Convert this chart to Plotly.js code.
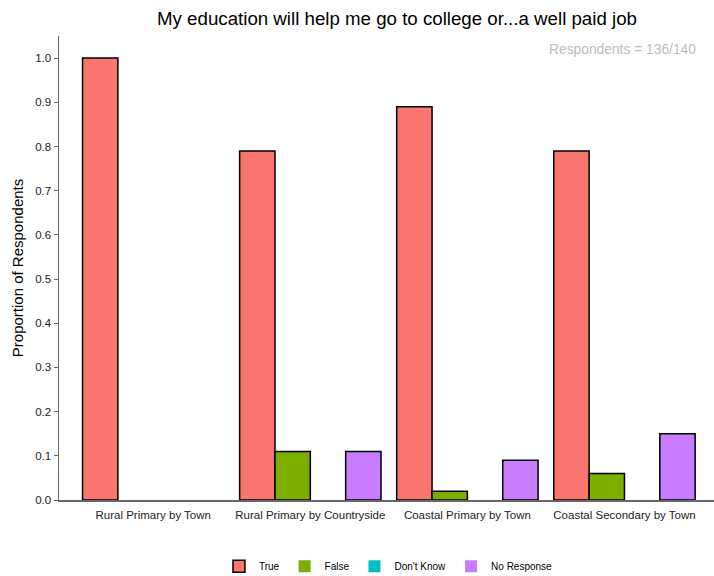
<!DOCTYPE html>
<html>
<head>
<meta charset="utf-8">
<script src="https://cdn.plot.ly/plotly-3.0.1.min.js"></script>
<style>body{margin:0;padding:0;background:#fff}#chart{width:714px;height:576px}</style>
</head>
<body>
<div id="chart"></div>
<script>
const categories = ["Rural Primary by Town", "Rural Primary by Countryside", "Coastal Primary by Town", "Coastal Secondary by Town"];
const seriesNames = ["True", "False", "Don't Know", "No Response"];
const trueVals = [1.00, 0.79, 0.89, 0.79];
const falseVals = [0.00, 0.11, 0.02, 0.06];
const dontKnowVals = [0.00, 0.00, 0.00, 0.00];
const noResponseVals = [0.00, 0.11, 0.09, 0.15];
const yTicks = [0.0, 0.1, 0.2, 0.3, 0.4, 0.5, 0.6, 0.7, 0.8, 0.9, 1.0];
const colors = ["#F8766D", "#7CAE00", "#00BFC4", "#C77CFF"];
const allVals = [trueVals, falseVals, dontKnowVals, noResponseVals];

const traces = allVals.map((v, i) => ({
  type: "bar",
  name: seriesNames[i],
  x: categories.map((c, k) => k),
  y: v,
  marker: {color: colors[i], line: {color: "#000", width: v.map(val => val === 0 ? 0 : 1.5)}},
  hoverinfo: "none"
}));

const layout = {
  width: 714, height: 576,
  margin: {l: 59, r: 0, t: 36, b: 76},
  paper_bgcolor: "#fff", plot_bgcolor: "#fff",
  font: {family: "Liberation Sans, Arial, sans-serif", color: "#000"},
  barmode: "group", bargap: 0.1, bargroupgap: 0,
  title: {text: "My education will help me go to college or...a well paid job", x: 0.556, xanchor: "center", y: 0.968, yanchor: "middle", font: {size: 18.7, color: "#000"}},
  xaxis: {
    range: [-0.6, 3.57], tickvals: [0, 1, 2, 3], ticktext: categories,
    showline: true, linecolor: "#666", linewidth: 1.5, showgrid: false, zeroline: false,
    ticks: "outside", ticklen: 4, tickcolor: "rgba(0,0,0,0)", tickfont: {size: 11.5, color: "#222"}, fixedrange: true
  },
  yaxis: {
    range: [0, 1.05], tickvals: yTicks, ticktext: yTicks.map(t => t.toFixed(1)),
    showline: true, linecolor: "#666", linewidth: 1.5, showgrid: false, zeroline: false,
    ticks: "outside", ticklen: 4, tickcolor: "#666", tickwidth: 1,
    tickfont: {size: 11.5, color: "#222"},
    title: {text: "Proportion of Respondents", font: {size: 15, color: "#000"}, standoff: 8}
  },
  legend: {orientation: "h", xref: "paper", x: 0.503, xanchor: "center", yref: "container", y: 0.017, yanchor: "middle", font: {size: 10, color: "#000"}, itemwidth: 30, traceorder: "normal"},
  annotations: [{
    text: "Respondents = 136/140", xref: "paper", yref: "paper", x: 0.976, y: 0.97, xanchor: "right", yanchor: "middle",
    showarrow: false, font: {size: 13.8, color: "#bdbdbd"}
  }]
};

Plotly.newPlot("chart", traces, layout, {displayModeBar: false, staticPlot: true});
</script>
</body>
</html>
